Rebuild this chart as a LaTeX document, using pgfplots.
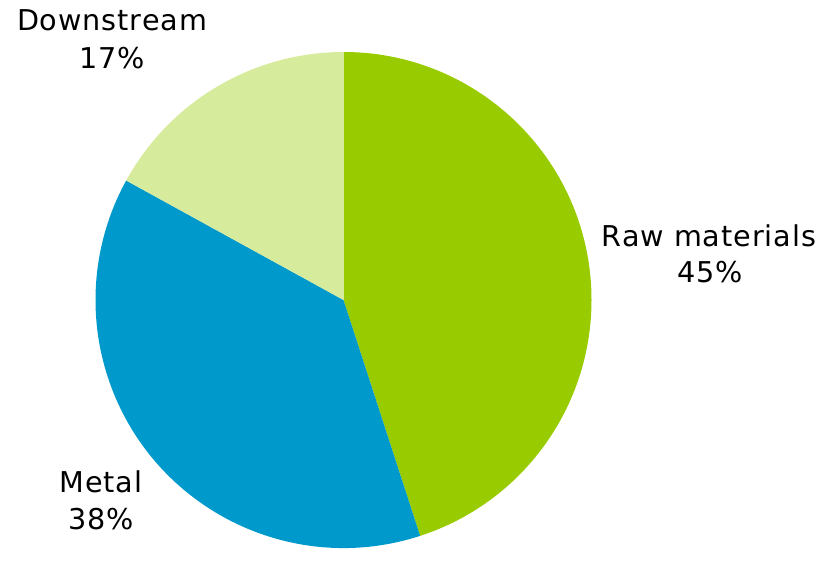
\documentclass[border=0pt]{standalone}
\usepackage{fontspec}
\setmainfont{DejaVu Sans}[LetterSpace=3.2]
\usepackage{pgfplots}
\usepackage{pgfplotstable}
\pgfplotsset{compat=1.18}
\definecolor{rawgreen}{HTML}{99CC00}
\definecolor{metalblue}{HTML}{0099CC}
\definecolor{downgreen}{HTML}{D7EB9C}
\pgfplotstableread{
value color
45 rawgreen
38 metalblue
17 downgreen
}\piedata
\begin{document}
\begin{tikzpicture}
\begin{axis}[
  scale only axis, width=624pt, height=411.75pt,
  xmin=0, xmax=832, ymin=0, ymax=549,
  hide axis, clip=false,
]
\path (axis cs:0,0) rectangle (axis cs:832,549);
\def\cum{90}
\pgfplotsforeachungrouped \i in {0,1,2} {
  \pgfplotstablegetelem{\i}{value}\of\piedata \let\v\pgfplotsretval
  \pgfplotstablegetelem{\i}{color}\of\piedata \let\c\pgfplotsretval
  \pgfmathsetmacro\endang{\cum - 3.6*\v}
  \edef\temp{\noexpand\fill[\c] (axis cs:343.5,249) -- ++(\cum:186pt) arc[start angle=\cum, end angle=\endang, radius=186pt] -- cycle;}
  \temp
  \xdef\cum{\endang}
}
\begin{scope}[every node/.style={anchor=base, inner sep=0pt, font=\fontsize{21.5}{26}\selectfont}]
\node at (axis cs:112,518) {Downstream};
\node at (axis cs:112,480) {17\%};
\node at (axis cs:709,302) {Raw materials};
\node at (axis cs:710,266) {45\%};
\node at (axis cs:101,57) {Metal};
\node at (axis cs:101,20) {38\%};
\end{scope}
\end{axis}
\end{tikzpicture}
\end{document}
